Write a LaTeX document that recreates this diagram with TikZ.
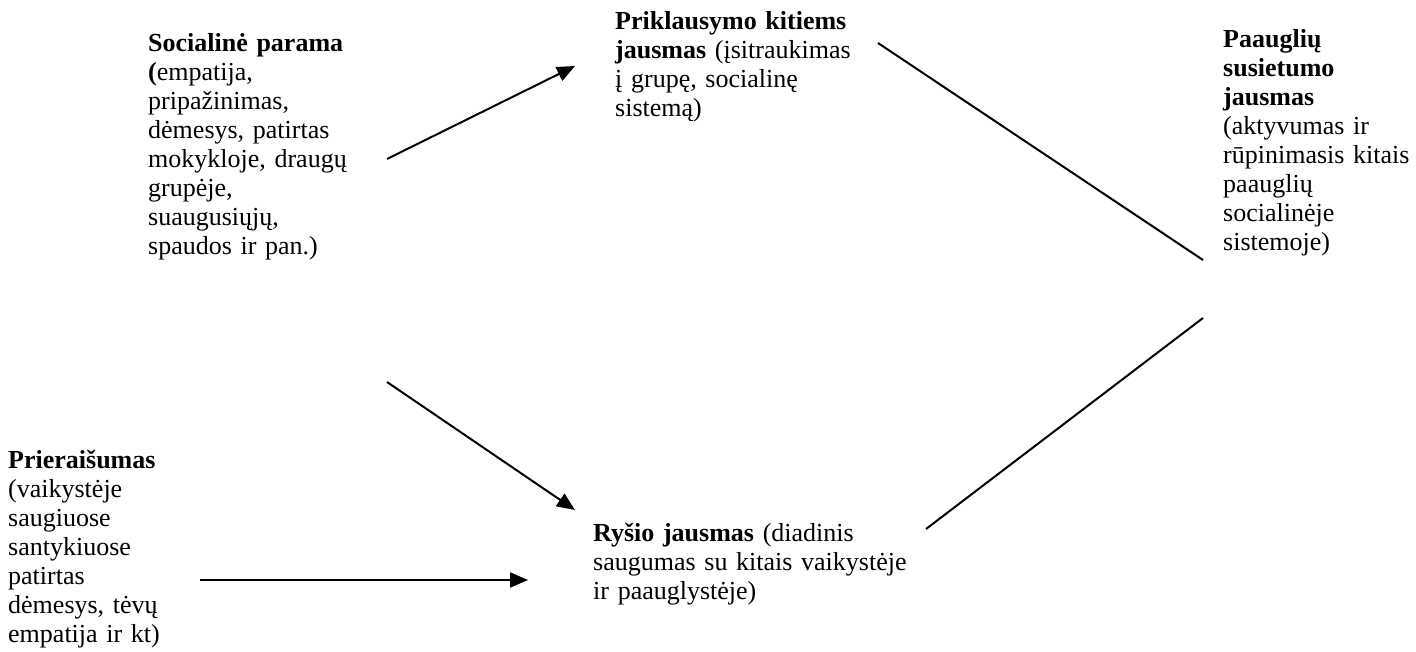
\documentclass[tikz,border=0pt]{standalone}
\usepackage{fontspec}
\setmainfont{Liberation Serif}
\usetikzlibrary{arrows.meta}
\tikzset{
  txt/.style={inner sep=0pt, anchor=base west, align=left, text width=#1,
    font=\fontsize{26}{29}\selectfont},
  arr/.style={line width=2pt, -{Triangle[length=18pt,width=15pt]}},
  ln/.style={line width=2pt}
}
\begin{document}
\begin{tikzpicture}[x=1pt,y=-1pt]
\useasboundingbox (0,0) rectangle (1416,652);
\node[txt=230pt] (soc) at (148,52) {\textbf{Socialinė parama}\\\textbf{(}empatija,\\pripažinimas,\\dėmesys, patirtas\\mokykloje, draugų\\grupėje,\\suaugusiųjų,\\spaudos ir pan.)};
\node[txt=260pt] (prik) at (615,30) {\textbf{Priklausymo kitiems}\\\textbf{jausmas} (įsitraukimas\\į grupę, socialinę\\sistemą)};
\node[txt=190pt] (paaug) at (1223,48) {\textbf{Paauglių}\\\textbf{susietumo}\\\textbf{jausmas}\\(aktyvumas ir\\rūpinimasis kitais\\paauglių\\socialinėje\\sistemoje)};
\node[txt=190pt] (prier) at (8,468) {\textbf{Prieraišumas}\\(vaikystėje\\saugiuose\\santykiuose\\patirtas\\dėmesys, tėvų\\empatija ir kt)};
\node[txt=330pt] (rysio) at (593,541) {\textbf{Ryšio jausmas} (diadinis\\saugumas su kitais vaikystėje\\ir paauglystėje)};
\coordinate (s1) at (387,159);
\coordinate (e1) at (575,66);
\coordinate (s2) at (387,382);
\coordinate (e2) at (575,510);
\coordinate (s3) at (200,580);
\coordinate (e3) at (528,580);
\coordinate (s4) at (878,43);
\coordinate (e4) at (1203,260);
\coordinate (s5) at (926,529);
\coordinate (e5) at (1203,318);
\draw[arr] (s1) -- (e1);
\draw[arr] (s2) -- (e2);
\draw[arr] (s3) -- (e3);
\draw[ln] (s4) -- (e4);
\draw[ln] (s5) -- (e5);
\end{tikzpicture}
\end{document}
